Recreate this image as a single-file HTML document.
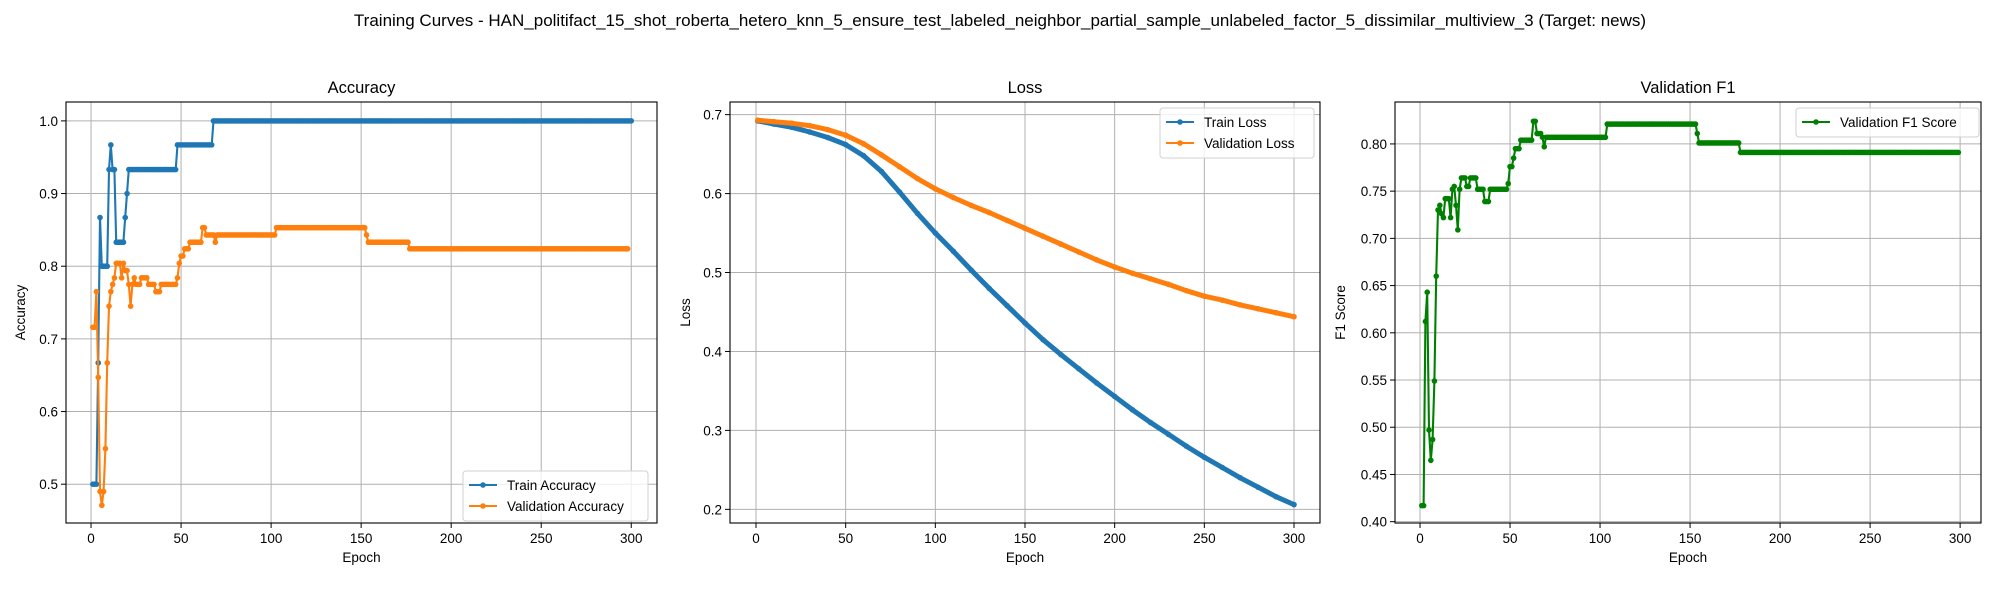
<!DOCTYPE html>
<html><head><meta charset="utf-8"><style>
body{margin:0;background:#fff;}
svg{display:block;font-family:"Liberation Sans","DejaVu Sans",sans-serif;}
</style></head><body>
<svg id="fig" width="2000" height="600" viewBox="0 0 2000 600" xmlns="http://www.w3.org/2000/svg">
<rect width="2000" height="600" fill="#fff"/>
<text x="1000" y="26" text-anchor="middle" font-size="17">Training Curves - HAN_politifact_15_shot_roberta_hetero_knn_5_ensure_test_labeled_neighbor_partial_sample_unlabeled_factor_5_dissimilar_multiview_3 (Target: news)</text>
</svg>
<script>
// ---- data ----
const accEpochRunsTrain = [[0.5,3],[0.667,1],[0.867,1],[0.8,4],[0.933,1],[0.967,1],[0.933,2],[0.833,5],[0.867,1],[0.9,1],[0.933,27],[0.967,20],[1.0,233]];
const accRunsVal = [[0.716,2],[0.765,1],[0.647,1],[0.49,1],[0.471,1],[0.49,1],[0.549,1],[0.667,1],[0.745,1],[0.765,1],[0.775,1],[0.784,1],[0.804,3],[0.784,1],[0.804,1],[0.794,2],[0.775,1],[0.745,1],[0.775,1],[0.784,1],[0.775,3],[0.784,4],[0.775,4],[0.765,3],[0.775,9],[0.784,1],[0.804,1],[0.814,2],[0.824,3],[0.833,7],[0.853,2],[0.843,5],[0.833,1],[0.843,33],[0.853,50],[0.843,1],[0.833,23],[0.824,122]];
const f1Runs = [[0.417,2],[0.612,1],[0.643,1],[0.497,1],[0.465,1],[0.487,1],[0.549,1],[0.66,1],[0.73,1],[0.735,1],[0.726,1],[0.722,1],[0.742,3],[0.722,1],[0.752,1],[0.755,1],[0.735,1],[0.709,1],[0.752,1],[0.764,3],[0.755,2],[0.764,4],[0.752,4],[0.739,3],[0.752,10],[0.758,1],[0.776,2],[0.785,1],[0.795,3],[0.804,7],[0.824,2],[0.811,3],[0.807,1],[0.797,1],[0.807,34],[0.821,50],[0.811,1],[0.801,23],[0.791,122]];
const lossEpochs = [1,10,20,30,40,50,60,70,80,90,100,110,120,130,140,150,160,170,180,190,200,210,220,230,240,250,260,270,280,290,300];
const trainLoss = [0.692,0.688,0.684,0.678,0.671,0.662,0.648,0.628,0.602,0.575,0.55,0.527,0.503,0.48,0.458,0.436,0.415,0.396,0.378,0.36,0.343,0.326,0.31,0.295,0.28,0.266,0.253,0.24,0.228,0.216,0.206];
const valLoss = [0.693,0.691,0.689,0.686,0.681,0.674,0.663,0.649,0.634,0.619,0.606,0.595,0.585,0.576,0.566,0.556,0.546,0.536,0.526,0.516,0.507,0.499,0.492,0.485,0.477,0.47,0.465,0.459,0.454,0.449,0.444];
const xTicks = [0,50,100,150,200,250,300];
const accTicks = [0.5,0.6,0.7,0.8,0.9,1.0];
const lossTicks = [0.2,0.3,0.4,0.5,0.6,0.7];
const f1Ticks = [0.40,0.45,0.50,0.55,0.60,0.65,0.70,0.75,0.80];

const NS="http://www.w3.org/2000/svg";
const svg=document.getElementById('fig');
function mk(tag,attrs,parent){const e=document.createElementNS(NS,tag);for(const k in attrs)e.setAttribute(k,attrs[k]);(parent||svg).appendChild(e);return e;}
function expand(runs){const xs=[],ys=[];let ep=1;runs.forEach(r=>{for(let i=0;i<r[1];i++){xs.push(ep++);ys.push(r[0]);}});return [xs,ys];}

function panel(o){
  const g=mk('g',{});
  
  
  const sx=v=>o.L+(v-o.x0)/(o.x1-o.x0)*(o.R-o.L);
  const sy=v=>o.B-(v-o.y0)/(o.y1-o.y0)*(o.B-o.T);
  xTicks.forEach(t=>{
    const x=sx(t);
    const gl=mk('line',{x1:x,x2:x,y1:o.T,y2:o.B,stroke:'#b0b0b0','stroke-width':1},g);
    
    
    mk('line',{x1:x,x2:x,y1:o.B,y2:o.B+5,stroke:'#000','stroke-width':1},g);
    const tl=mk('text',{x:x,y:o.B+20,'text-anchor':'middle','font-size':13.5},g);
    tl.textContent=t;
    
    
  });
  o.yt.forEach(t=>{
    const y=sy(t);
    const gl=mk('line',{x1:o.L,x2:o.R,y1:y,y2:y,stroke:'#b0b0b0','stroke-width':1},g);
    
    
    mk('line',{x1:o.L-5,x2:o.L,y1:y,y2:y,stroke:'#000','stroke-width':1},g);
    const tl=mk('text',{x:o.L-8,y:y+5,'text-anchor':'end','font-size':13.5},g);
    tl.textContent=t.toFixed(o.dec);
    
    
  });
  o.series.forEach(s=>{
    const pts=s.xs.map((x,i)=>sx(x).toFixed(1)+','+sy(s.ys[i]).toFixed(1)).join(' ');
    const pl=mk('polyline',{points:pts,fill:'none',stroke:s.c,'stroke-width':s.w||2.1,'stroke-linejoin':'round','stroke-linecap':'round'},g);
    
    
    s.xs.forEach((x,i)=>{
      const c=mk('circle',{cx:sx(x),cy:sy(s.ys[i]),r:2.8,fill:s.c},g);
      
      
    });
  });
  const fr=mk('rect',{x:o.L,y:o.T,width:o.R-o.L,height:o.B-o.T,fill:'none',stroke:'#000','stroke-width':1.1},g);
  
  
  const ti=mk('text',{x:(o.L+o.R)/2,y:o.T-9,'text-anchor':'middle','font-size':16.5},g);
  ti.textContent=o.title;
  
  
  const xl=mk('text',{x:(o.L+o.R)/2,y:o.B+39,'text-anchor':'middle','font-size':13.5},g);
  xl.textContent='Epoch';
  
  
  const yl=mk('text',{x:o.ylx,y:(o.T+o.B)/2,'text-anchor':'middle','font-size':13.5,transform:'rotate(-90 '+o.ylx+' '+(o.T+o.B)/2+')'},g);
  yl.textContent=o.ylabel;
  
  
  const lg=mk('g',{},g);
  
  
  const lw=o.leg.w, lh=8+o.series.length*21;
  mk('rect',{x:o.leg.x,y:o.leg.y,width:lw,height:lh,rx:3,fill:'#fff','fill-opacity':0.8,stroke:'#d0d0d0'},lg);
  o.series.forEach((s,i)=>{
    const y=o.leg.y+14+i*21;
    mk('line',{x1:o.leg.x+6,x2:o.leg.x+34,y1:y,y2:y,stroke:s.c,'stroke-width':2.1},lg);
    mk('circle',{cx:o.leg.x+20,cy:y,r:2.8,fill:s.c},lg);
    const t=mk('text',{x:o.leg.x+44,y:y+5,'font-size':13.5},lg);
    t.textContent=s.label;
    
    
  });
}

const [ta_x,ta_y]=expand(accEpochRunsTrain);
const [va_x,va_y]=expand(accRunsVal);
const [f_x,f_y]=expand(f1Runs);

panel({name:'accuracy-panel',title:'Accuracy',ylabel:'Accuracy',L:66,R:657,T:102,B:523,x0:-13.9,x1:314.3,y0:0.4466,y1:1.026,yt:accTicks,dec:1,ylx:25,
  leg:{x:463,y:471,w:185},
  series:[{id:'train-accuracy',label:'Train Accuracy',c:'#1f77b4',xs:ta_x,ys:ta_y},{id:'validation-accuracy',label:'Validation Accuracy',c:'#ff7f0e',xs:va_x,ys:va_y}]});
panel({name:'loss-panel',title:'Loss',ylabel:'Loss',L:730,R:1320,T:102,B:523,x0:-14.5,x1:314.5,y0:0.1827,y1:0.716,yt:lossTicks,dec:1,ylx:690,
  leg:{x:1160,y:108,w:154},
  series:[{id:'train-loss',label:'Train Loss',c:'#1f77b4',xs:lossEpochs,ys:trainLoss,w:5},{id:'validation-loss',label:'Validation Loss',c:'#ff7f0e',xs:lossEpochs,ys:valLoss,w:5}]});
panel({name:'f1-panel',title:'Validation F1',ylabel:'F1 Score',L:1395,R:1981,T:102,B:523,x0:-13.9,x1:311.6,y0:0.3986,y1:0.8444,yt:f1Ticks,dec:2,ylx:1345,
  leg:{x:1796,y:108,w:183},
  series:[{id:'validation-f1',label:'Validation F1 Score',c:'#008000',xs:f_x,ys:f_y}]});
</script>
</body></html>
